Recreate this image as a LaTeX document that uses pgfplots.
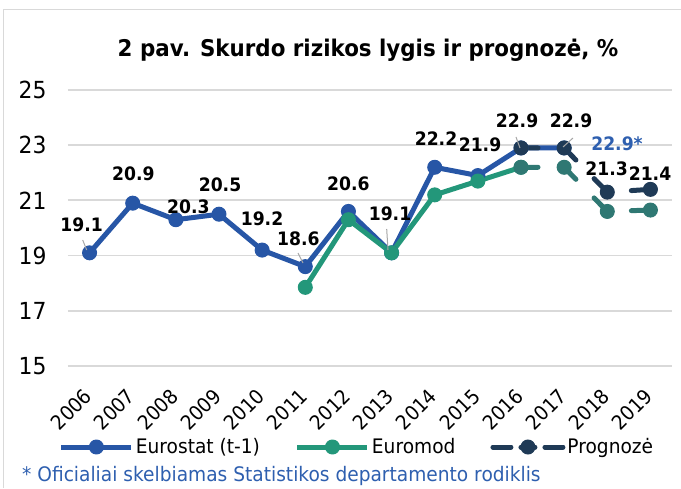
\documentclass[border=0pt]{standalone}
\usepackage{fontspec}
\setmainfont{DejaVu Sans}[FakeStretch=0.93]
\usepackage{pgfplots}
\pgfplotsset{compat=1.18}
\definecolor{cEst}{HTML}{2756A6}
\definecolor{cMod}{HTML}{23977A}
\definecolor{cModF}{HTML}{2F7873}
\definecolor{cProg}{HTML}{1F3A56}
\definecolor{cNote}{HTML}{2E5FAF}
\definecolor{cGrid}{HTML}{D9D9D9}
\definecolor{cLead}{HTML}{A6A6A6}
\pgfplotsset{proglegend/.style={legend image code/.code={\draw[##1, dash pattern=on 18pt off 34pt] (0pt,0pt) -- (70pt,0pt);
     \draw[##1, solid] (28pt,0pt) -- (42pt,0pt); \draw[##1, solid] plot[mark=*] coordinates {(35pt,0pt)};}}}
\begin{document}
\begin{tikzpicture}[x=1pt,y=1pt]
\begin{axis}[
  at={(68pt,122pt)}, anchor=south west, scale only axis,
  width=604pt, height=276pt,
  xmin=-0.5, xmax=13.5, ymin=15, ymax=25,
  ytick={15,17,19,21,23,25},
  xtick={0,...,13},
  xticklabels={2006,2007,2008,2009,2010,2011,2012,2013,2014,2015,2016,2017,2018,2019},
  axis line style={draw=none}, major tick length=0pt,
  ymajorgrids, grid style={cGrid, line width=1.8pt},
  /pgf/number format/assume math mode=true,
  yticklabel style={font=\fontsize{23.5}{26}\selectfont, anchor=east, xshift=-18pt},
  xticklabel style={font=\fontsize{20}{22}\selectfont, xshift=1pt, yshift=-24pt, rotate=45, anchor=east},
  clip=false,
  legend columns=3,
  legend style={at={(0.4785,-0.2935)}, anchor=center, draw=none, fill=none,
    font=\fontsize{20}{22}\selectfont,
    /tikz/every even column/.append style={column sep=33pt}},
  legend image code/.code={\draw[#1, mark repeat=2, mark phase=2] plot coordinates {(0pt,0pt) (35pt,0pt) (70pt,0pt)};},
]
\addplot[cEst, line width=5pt, mark=*, mark size=7pt, mark options={solid, line width=1pt}, line join=round]
  coordinates {(0,19.1)(1,20.9)(2,20.3)(3,20.5)(4,19.2)(5,18.6)(6,20.6)(7,19.1)(8,22.2)(9,21.9)(10,22.9)(11,22.9)};
\addlegendentry{Eurostat (t-1)}
\addplot[cMod, line width=5pt, mark=*, mark size=7pt, mark options={solid, line width=1pt}, line join=round]
  coordinates {(5,17.85)(6,20.3)(7,19.1)(8,21.2)(9,21.7)(10,22.2)};
\addlegendentry{Euromod}
\addplot[cModF, line width=5pt, line cap=round, dash pattern=on 17pt off 26pt, mark=*, mark size=7pt, mark options={solid, line width=1pt}, forget plot]
  coordinates {(10,22.2)(11,22.2)(12,20.6)(13,20.65)};
\addplot[cProg, line width=5pt, line cap=round, dash pattern=on 17pt off 26pt, mark=*, mark size=7pt, mark options={solid, line width=1pt}, proglegend]
  coordinates {(10,22.9)(11,22.9)(12,21.3)(13,21.4)};
\addlegendentry{Prognozė}
\end{axis}
% leader lines
\begin{scope}[cLead, line width=1pt]
\draw (82.7,248) -- (86.7,238);
\draw (298,235) -- (303,225);
\draw (386.7,259) -- (388,238);
\draw (516,351) -- (520,340);
\draw (563,341) -- (573,350);
\end{scope}
% data labels
\begin{scope}[font=\fontsize{18.5}{20}\bfseries\selectfont]
\node at (81.7,263) {19.1};
\node at (133.3,314.7) {20.9};
\node at (188.3,281.3) {20.3};
\node at (220,303) {20.5};
\node at (262,269) {19.2};
\node at (298.3,249.7) {18.6};
\node at (348.3,304.7) {20.6};
\node at (390,274.7) {19.1};
\node at (436,349.7) {22.2};
\node at (480,343) {21.9};
\node at (517,367) {22.9};
\node at (571,367) {22.9};
\node[text=cNote] at (617,344.7) {22.9*};
\node at (606.7,319.7) {21.3};
\node at (650,314.7) {21.4};
\end{scope}
% title
\node[font=\fontsize{23}{25}\bfseries\selectfont] at (368,438) {2 pav. Skurdo rizikos lygis ir prognozė, \%};
% footnote
\node[anchor=base west, inner sep=0pt, text=cNote, font=\fontsize{20}{22}\selectfont] at (22,7) {* Oficialiai skelbiamas Statistikos departamento rodiklis};
% frame
\draw[cGrid, line width=1.5pt] (681,478.5) -- (3.5,478.5) -- (3.5,0);
\pgfresetboundingbox
\useasboundingbox (0,0) rectangle (681,488);
\end{tikzpicture}
\end{document}
